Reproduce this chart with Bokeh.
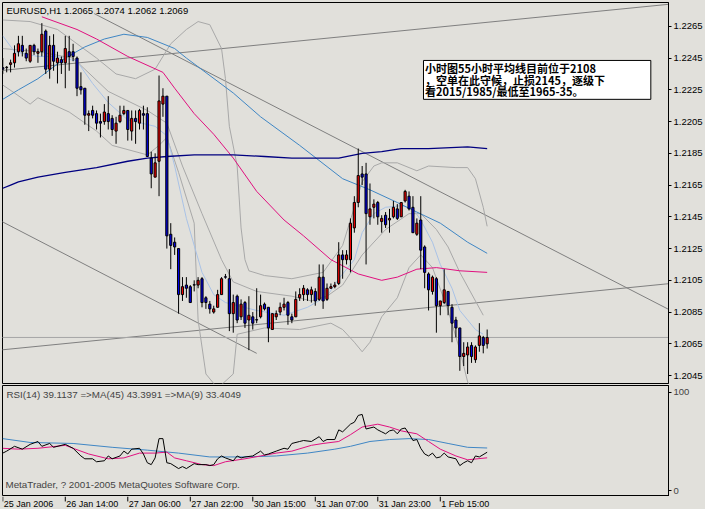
from bokeh.plotting import figure
from bokeh.models import Range1d, FixedTicker, PrintfTickFormatter, Label, ColumnDataSource
from bokeh.layouts import column
from bokeh.embed import file_html
from bokeh.resources import INLINE
from bokeh.core.properties import value

# ---------------- data (EURUSD H1) ----------------
opens = [1.2239,1.2239,1.2241,1.2242,1.2249,1.2253,1.2248,1.2243,1.2253,1.2248,
         1.2249,1.2262,1.2238,1.2253,1.2242,1.2244,1.2242,1.2249,1.2249,1.2245,
         1.2227,1.2226,1.2209,1.2212,1.2210,1.2205,1.2205,1.2210,1.2207,1.2199,
         1.2205,1.2210,1.2212,1.2199,1.2207,1.2204,1.2210,1.2210,1.2182,1.2170,
         1.2180,1.2216,1.2221,1.2134,1.2129,1.2125,1.2096,1.2102,1.2101,1.2102,
         1.2102,1.2106,1.2094,1.2090,1.2085,1.2088,1.2096,1.2107,1.2106,1.2084,
         1.2095,1.2082,1.2091,1.2080,1.2082,1.2080,1.2082,1.2090,1.2088,1.2074,
         1.2082,1.2085,1.2088,1.2091,1.2082,1.2082,1.2094,1.2096,1.2099,1.2096,
         1.2098,1.2093,1.2107,1.2093,1.2100,1.2101,1.2103,1.2121,1.2118,1.2118,
         1.2138,1.2154,1.2172,1.2172,1.2145,1.2151,1.2154,1.2142,1.2146,1.2143,
         1.2145,1.2150,1.2145,1.2155,1.2158,1.2151,1.2134,1.2143,1.2126,1.2109,
         1.2098,1.2106,1.2089,1.2091,1.2098,1.2088,1.2080,1.2075,1.2057,1.2058,
         1.2064,1.2055,1.2064,1.2069,1.2065]
highs = [1.2245,1.2240,1.2244,1.2253,1.2259,1.2259,1.2251,1.2253,1.2254,1.2251,
         1.2267,1.2263,1.2259,1.2260,1.2249,1.2246,1.2259,1.2259,1.2254,1.2246,
         1.2236,1.2226,1.2212,1.2215,1.2212,1.2210,1.2216,1.2221,1.2209,1.2208,
         1.2215,1.2215,1.2212,1.2212,1.2212,1.2213,1.2215,1.2214,1.2186,1.2185,
         1.2234,1.2226,1.2221,1.2141,1.2132,1.2125,1.2107,1.2107,1.2102,1.2105,
         1.2107,1.2107,1.2095,1.2092,1.2089,1.2099,1.2107,1.2109,1.2112,1.2096,
         1.2096,1.2093,1.2092,1.2095,1.2085,1.2100,1.2096,1.2091,1.2088,1.2084,
         1.2086,1.2091,1.2094,1.2092,1.2084,1.2098,1.2100,1.2102,1.2100,1.2101,
         1.2100,1.2115,1.2115,1.2103,1.2103,1.2104,1.2129,1.2124,1.2124,1.2144,
         1.2158,1.2188,1.2177,1.2179,1.2166,1.2156,1.2155,1.2146,1.2148,1.2150,
         1.2155,1.2153,1.2154,1.2162,1.2161,1.2158,1.2144,1.2158,1.2127,1.2110,
         1.2108,1.2107,1.2092,1.2112,1.2098,1.2090,1.2082,1.2075,1.2066,1.2066,
         1.2066,1.2064,1.2078,1.2070,1.2074]
lows = [1.2235,1.2236,1.2236,1.2239,1.2246,1.2246,1.2243,1.2242,1.2247,1.2242,
        1.2246,1.2235,1.2232,1.2237,1.2229,1.2235,1.2226,1.2237,1.2243,1.2221,
        1.2222,1.2203,1.2199,1.2207,1.2200,1.2195,1.2203,1.2200,1.2196,1.2191,
        1.2204,1.2209,1.2193,1.2193,1.2191,1.2200,1.2200,1.2183,1.2163,1.2170,
        1.2158,1.2208,1.2125,1.2112,1.2121,1.2084,1.2092,1.2094,1.2091,1.2098,
        1.2100,1.2088,1.2087,1.2084,1.2084,1.2088,1.2096,1.2106,1.2073,1.2072,
        1.2078,1.2080,1.2075,1.2061,1.2074,1.2078,1.2081,1.2086,1.2066,1.2074,
        1.2080,1.2083,1.2086,1.2077,1.2078,1.2082,1.2092,1.2092,1.2092,1.2091,
        1.2089,1.2092,1.2087,1.2092,1.2100,1.2100,1.2102,1.2106,1.2115,1.2110,
        1.2135,1.2151,1.2165,1.2115,1.2140,1.2144,1.2140,1.2135,1.2138,1.2135,
        1.2144,1.2143,1.2145,1.2154,1.2149,1.2135,1.2133,1.2112,1.2100,1.2086,
        1.2096,1.2072,1.2083,1.2090,1.2083,1.2066,1.2069,1.2048,1.2051,1.2046,
        1.2053,1.2053,1.2060,1.2059,1.2062]
closes = [1.2238,1.2239,1.2242,1.2248,1.2254,1.2249,1.2245,1.2253,1.2249,1.2249,
          1.2260,1.2238,1.2253,1.2243,1.2245,1.2242,1.2251,1.2246,1.2246,1.2226,
          1.2225,1.2209,1.2210,1.2209,1.2204,1.2204,1.2211,1.2205,1.2200,1.2204,
          1.2209,1.2212,1.2200,1.2207,1.2205,1.2212,1.2209,1.2183,1.2172,1.2179,
          1.2218,1.2221,1.2133,1.2127,1.2126,1.2096,1.2101,1.2100,1.2091,1.2102,
          1.2105,1.2091,1.2091,1.2087,1.2087,1.2096,1.2106,1.2107,1.2084,1.2091,
          1.2080,1.2090,1.2078,1.2083,1.2078,1.2080,1.2089,1.2087,1.2075,1.2084,
          1.2084,1.2088,1.2090,1.2083,1.2080,1.2093,1.2096,1.2100,1.2096,1.2099,
          1.2092,1.2107,1.2092,1.2100,1.2101,1.2102,1.2121,1.2118,1.2121,1.2141,
          1.2154,1.2171,1.2170,1.2147,1.2150,1.2153,1.2145,1.2144,1.2140,1.2144,
          1.2151,1.2144,1.2154,1.2161,1.2150,1.2135,1.2141,1.2124,1.2110,1.2099,
          1.2107,1.2089,1.2092,1.2099,1.2089,1.2078,1.2075,1.2057,1.2059,1.2063,
          1.2057,1.2063,1.2070,1.2064,1.2069]

# moving averages on the price chart (bar index, price)
ma_long_idx = [0, 2, 4, 9, 16, 24, 32, 37, 42, 49, 59, 67, 74, 86, 92, 97, 102, 109, 119, 124]
ma_long_val = [1.2163, 1.2165, 1.2167, 1.2170, 1.2173, 1.2176, 1.2180, 1.2182, 1.2183, 1.2184,
               1.2184, 1.2183, 1.2182, 1.2182, 1.2185, 1.2186, 1.2188, 1.2188, 1.2189, 1.2188]
ma55_idx = [10, 19, 24, 32, 41, 44, 49, 54, 59, 65, 72, 77, 84, 91, 97, 101, 106, 111, 117, 124]
ma55_val = [1.2271, 1.2263, 1.2257, 1.2246, 1.2236, 1.2226, 1.2210, 1.2197, 1.2182, 1.2161,
            1.2143, 1.2133, 1.2118, 1.2109, 1.2105, 1.2107, 1.2112, 1.2113, 1.2111, 1.2110]
ma_mid_idx = [0, 4, 9, 16, 21, 26, 31, 37, 44, 47, 59, 66, 76, 87, 94, 101, 106, 112, 119, 124]
ma_mid_val = [1.2219, 1.2225, 1.2232, 1.2245, 1.2252, 1.2257, 1.2260, 1.2258, 1.2251, 1.2245,
              1.2223, 1.2208, 1.2190, 1.2169, 1.2162, 1.2154, 1.2148, 1.2141, 1.2129, 1.2122]
ma_fast_idx = [0, 3, 9, 14, 19, 23, 27, 32, 39, 42, 44, 47, 51, 54, 57, 65, 72, 78, 83, 86,
               90, 92, 95, 98, 102, 105, 107, 110, 112, 115, 117, 121, 123]
ma_fast_val = [1.2259, 1.2249, 1.2246, 1.2246, 1.2243, 1.2229, 1.2217, 1.2206, 1.2202, 1.2196,
               1.2177, 1.2144, 1.2110, 1.2096, 1.2091, 1.2086, 1.2083, 1.2088, 1.2095, 1.2106,
               1.2118, 1.2135, 1.2147, 1.2151, 1.2152, 1.2150, 1.2143, 1.2129, 1.2115, 1.2100,
               1.2086, 1.2074, 1.2071]
bb_mid_idx = [0, 9, 18, 27, 37, 42, 46, 51, 56, 59, 65, 74, 79, 83, 87, 92, 98, 104, 107, 111, 114, 117, 123]
bb_mid_val = [1.2251, 1.2249, 1.2245, 1.2224, 1.2212, 1.2204, 1.2177, 1.2147, 1.2118, 1.2104,
              1.2098, 1.2095, 1.2092, 1.2095, 1.2102, 1.2121, 1.2137, 1.2147, 1.2147, 1.2137,
              1.2126, 1.2110, 1.2083]
bb_up_idx = [0, 7, 14, 19, 24, 29, 34, 39, 43, 47, 50, 53, 56, 57, 58, 60, 61, 62, 63, 67,
             74, 82, 87, 90, 92, 95, 97, 101, 106, 109, 116, 119, 121, 123, 124]
bb_up_val = [1.2269, 1.2268, 1.2263, 1.2254, 1.2245, 1.2235, 1.2232, 1.2238, 1.2254, 1.2263,
             1.2268, 1.2266, 1.2251, 1.2232, 1.2202, 1.2177, 1.2138, 1.2118, 1.2111, 1.2108,
             1.2106, 1.2110, 1.2127, 1.2151, 1.2167, 1.2177, 1.2179, 1.2179, 1.2174, 1.2177,
             1.2176, 1.2176, 1.2169, 1.2151, 1.2139]
bb_lo_idx = [0, 3, 7, 9, 17, 24, 28, 37, 40, 42, 45, 49, 50, 52, 55, 59, 60, 67, 76, 84,
             87, 90, 92, 94, 97, 101, 104, 107, 110, 114, 117, 119, 121]
bb_lo_val = [1.2228, 1.2223, 1.2216, 1.2220, 1.2211, 1.2199, 1.2190, 1.2184, 1.2190, 1.2195,
             1.2173, 1.2141, 1.2080, 1.2046, 1.2037, 1.2046, 1.2071, 1.2075, 1.2074, 1.2078,
             1.2074, 1.2066, 1.2060, 1.2066, 1.2082, 1.2094, 1.2113, 1.2121, 1.2113, 1.2086,
             1.2061, 1.2041, 1.2031]

# drawn trend lines: (start index, start price, end index, end price)
trend_x0 = [-1, 23.4, -1, -1]
trend_y0 = [1.2237, 1.2273, 1.2143, 1.2061]
trend_x1 = [171, 171, 65, 171]
trend_y1 = [1.2279, 1.2086, 1.2059, 1.2103]
last_price = 1.2069

price_ticks = [1.2045, 1.2065, 1.2085, 1.2105, 1.2125, 1.2145, 1.2165, 1.2185, 1.2205, 1.2225, 1.2245, 1.2265]

# RSI panel
rsi_idx = [0, 1, 3, 5, 7, 9, 10, 12, 13, 16, 17, 18, 20, 21, 23, 24, 26, 27, 28, 30,
           31, 32, 33, 35, 36, 37, 38, 39, 40, 41, 42, 43, 45, 46, 47, 49, 50, 52, 53, 54,
           55, 56, 57, 59, 60, 61, 62, 64, 66, 67, 68, 70, 72, 73, 74, 76, 77, 79, 81, 82,
           83, 85, 86, 87, 89, 90, 91, 92, 93, 94, 95, 96, 97, 98, 99, 100, 101, 102, 103, 104,
           105, 106, 107, 108, 109, 110, 111, 112, 113, 114, 116, 117, 118, 119, 120, 121, 122, 124]
rsi_val = [38.2, 40.2, 45.1, 42.2, 47.1, 50.0, 45.1, 48.0, 44.1, 47.1, 45.1, 43.1, 35.3, 32.4, 32.4, 29.4, 30.4, 35.3, 32.4, 35.3,
           40.2, 37.3, 42.2, 43.1, 37.3, 28.4, 26.5, 33.3, 52.9, 52.9, 28.4, 27.5, 22.5, 24.5, 22.5, 27.5, 26.5, 26.5, 25.5, 26.5,
           32.4, 35.3, 33.3, 30.4, 35.3, 33.3, 34.3, 35.3, 40.2, 36.3, 37.3, 40.2, 43.1, 42.2, 48.0, 50.0, 51.0, 50.0, 54.9, 50.0,
           52.0, 52.0, 61.8, 59.8, 67.6, 69.6, 76.5, 77.5, 62.7, 63.7, 64.7, 61.8, 59.8, 57.8, 60.8, 61.8, 57.8, 62.7, 63.7, 57.8,
           51.0, 52.0, 43.1, 37.3, 35.3, 38.2, 33.3, 34.3, 38.2, 34.3, 32.4, 25.5, 28.4, 30.4, 28.4, 35.3, 34.3, 39.1]
rsi_ma9_idx = [0, 4, 9, 16, 18, 22, 27, 31, 35, 39, 42, 44, 47, 51, 54, 57, 62, 66, 70, 74,
               79, 82, 86, 89, 92, 96, 99, 102, 106, 109, 112, 116, 119, 124]
rsi_ma9_val = [43.1, 42.2, 43.1, 46.1, 43.1, 37.3, 32.4, 33.3, 38.2, 38.2, 39.2, 33.3, 30.4, 26.5, 25.5, 29.4, 32.4, 35.3, 38.2, 40.2,
               46.1, 48.0, 50.0, 56.9, 64.7, 67.6, 64.7, 60.8, 57.8, 50.0, 42.2, 35.3, 31.4, 33.4]
rsi_ma45_idx = [0, 7, 18, 28, 37, 45, 53, 62, 70, 78, 85, 89, 94, 99, 104, 109, 114, 119, 124]
rsi_ma45_val = [52.9, 49.0, 48.0, 44.1, 41.2, 38.2, 34.3, 34.3, 35.3, 38.2, 42.2, 45.1, 50.0, 52.0, 52.9, 52.0, 48.0, 44.1, 43.4]

date_tick_idx = [0, 16, 32, 48, 64, 80, 96, 112]
date_labels = ["25 Jan 2006", "26 Jan 14:00", "27 Jan 06:00", "27 Jan 22:00",
               "30 Jan 15:00", "31 Jan 07:00", "31 Jan 23:00", "1 Feb 15:00"]

note_lines = ["小时图55小时平均线目前位于2108",
              "，空单在此守候，止损2145，逐级下",
              "看2015/1985/最低至1965-35。"]

header_text = "EURUSD,H1  1.2065 1.2074 1.2062 1.2069"
rsi_text = "RSI(14) 39.1137  =>MA(45) 43.3991  =>MA(9) 33.4049"
copy_text = "MetaTrader, ? 2001-2005 MetaQuotes Software Corp."

# ---------------- styling ----------------
BG = "#E1E0DB"
FONT = "Liberation Sans"
RED = "#F00000"
BLUE = "#0000E6"
FW = 666
XR = Range1d(-0.075, 170.425)

idx = list(range(len(opens)))
tops = [max(o, c) for o, c in zip(opens, closes)]
bots = [min(o, c) for o, c in zip(opens, closes)]
tops = [t if t - b > 0.00002 else b + 0.00002 for t, b in zip(tops, bots)]
cols = [RED if c > o else BLUE for o, c in zip(opens, closes)]
csrc = ColumnDataSource(dict(x=idx, o=opens, h=highs, l=lows, c=closes, t=tops, b=bots, col=cols))

p = figure(frame_width=FW, frame_height=381, x_range=XR, y_range=Range1d(1.2040, 1.2280),
           output_backend="svg", toolbar_location=None, y_axis_location="right",
           x_axis_location=None, min_border_left=2, min_border_right=36,
           min_border_top=2, min_border_bottom=1)
p.background_fill_color = BG
p.border_fill_color = BG
p.outline_line_color = "black"
p.grid.visible = False
ax = p.yaxis[0]
ax.ticker = FixedTicker(ticks=price_ticks)
ax.formatter = PrintfTickFormatter(format="%.4f")
ax.major_tick_out = 3
ax.major_tick_in = 0
ax.minor_tick_line_color = None
ax.major_label_standoff = 2
ax.major_label_text_font = FONT
ax.major_label_text_font_size = "9.5px"
ax.major_label_text_color = "black"
ax.axis_line_color = "black"

# trend lines and current price line
p.segment(x0=trend_x0, y0=trend_y0, x1=trend_x1, y1=trend_y1, line_color="#7F7F7F", line_width=1)
p.segment(x0=[-1], y0=[last_price], x1=[171], y1=[last_price], line_color="#A6A6A6", line_width=1)

# bollinger bands / moving averages
p.line(bb_up_idx, bb_up_val, line_color="#A8A8A8", line_width=1)
p.line(bb_lo_idx, bb_lo_val, line_color="#A8A8A8", line_width=1)
p.line(bb_mid_idx, bb_mid_val, line_color="#A8A8A8", line_width=1)
p.line(ma_fast_idx, ma_fast_val, line_color="#A9C2E6", line_width=1)
p.line(ma_mid_idx, ma_mid_val, line_color="#3F86C4", line_width=1)
p.line(ma55_idx, ma55_val, line_color="#E0107F", line_width=1)
p.line(ma_long_idx, ma_long_val, line_color="#000080", line_width=1.3)

# candles
p.segment(x0="x", y0="l", x1="x", y1="h", source=csrc, line_color="black", line_width=1)
p.vbar(x="x", width=0.55, top="t", bottom="b", source=csrc, fill_color="col",
       line_color="black", line_width=1)

# note box
p.quad(left=[107.7], right=[165.9], bottom=[1.2219], top=[1.22435],
       fill_color="white", line_color="black", line_width=1)
p.text(x=[108.1, 108.1, 108.1], y=[1.22386, 1.22314, 1.22241], text=note_lines,
       text_font=value("Noto Sans CJK SC"), text_font_style="bold", text_font_size="11px",
       text_baseline="middle", text_align="left", text_color="black")

p.add_layout(Label(x=4, y=373, x_units="screen", y_units="screen", text=header_text,
                   text_font=FONT, text_font_size="9.5px", text_baseline="middle",
                   text_color="black"))
p.add_layout(Label(x=FW + 1, y=last_price, x_units="screen", y_units="data", text="1.2069",
                   text_font=FONT, text_font_size="9.5px", text_baseline="middle",
                   text_color="white", background_fill_color="black",
                   padding=1))

# RSI panel
r = figure(frame_width=FW, frame_height=111, x_range=XR, y_range=Range1d(-5.9, 106.9),
           output_backend="svg", toolbar_location=None, y_axis_location="right",
           x_axis_location=None, min_border_left=2, min_border_right=36,
           min_border_top=1, min_border_bottom=0)
r.background_fill_color = BG
r.border_fill_color = BG
r.outline_line_color = "black"
r.grid.visible = False
rax = r.yaxis[0]
rax.ticker = FixedTicker(ticks=[0, 100])
rax.major_tick_out = 3
rax.major_tick_in = 0
rax.minor_tick_line_color = None
rax.major_label_standoff = 2
rax.major_label_text_font = FONT
rax.major_label_text_font_size = "9.5px"
rax.axis_line_color = "black"
r.line(rsi_ma45_idx, rsi_ma45_val, line_color="#3F86C4", line_width=1)
r.line(rsi_ma9_idx, rsi_ma9_val, line_color="#E0107F", line_width=1)
r.line(rsi_idx, rsi_val, line_color="black", line_width=1)
r.add_layout(Label(x=4, y=102, x_units="screen", y_units="screen", text=rsi_text,
                   text_font=FONT, text_font_size="9.8px", text_baseline="middle"))
r.add_layout(Label(x=3, y=12, x_units="screen", y_units="screen", text=copy_text,
                   text_font=FONT, text_font_size="9.8px", text_baseline="middle"))

# time labels
t = figure(frame_width=FW, frame_height=13, x_range=XR, y_range=Range1d(0, 1),
           output_backend="svg", toolbar_location=None, x_axis_location=None,
           y_axis_location=None, min_border_left=2, min_border_right=36,
           min_border_top=0, min_border_bottom=0)
t.background_fill_color = BG
t.border_fill_color = BG
t.outline_line_color = None
t.grid.visible = False
t.segment(x0=date_tick_idx, y0=[1.0] * len(date_tick_idx), x1=date_tick_idx,
          y1=[0.62] * len(date_tick_idx), line_color="black", line_width=1)
t.text(x=[i + 0.25 for i in date_tick_idx], y=[0.42] * len(date_tick_idx), text=date_labels,
       text_font=value(FONT), text_font_size="9px", text_baseline="middle",
       text_align="left", text_color="black")

layout = column(p, r, t, spacing=0, styles={"background-color": BG})
open("out.html", "w").write(file_html(layout, INLINE))
